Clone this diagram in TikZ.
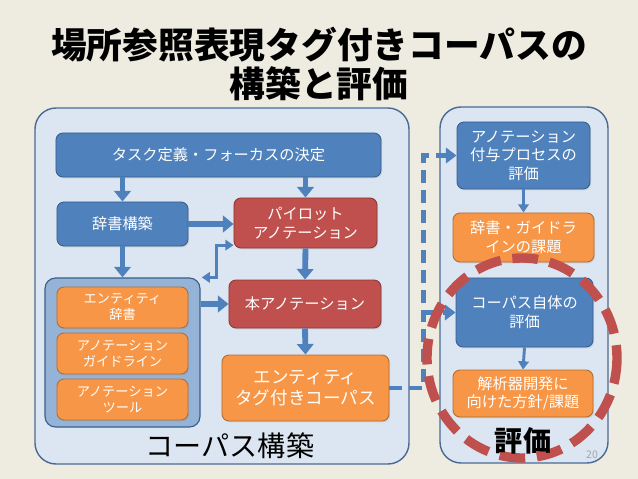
\documentclass[tikz,border=0pt]{standalone}
\usepackage{fontspec}
\setmainfont{Noto Sans CJK JP}
\usetikzlibrary{positioning, arrows.meta, shadows}
\usepackage{xcolor}

\definecolor{bgtan}{HTML}{EEEBE1}
\definecolor{panelfill}{HTML}{DCE6F2}
\definecolor{paneledge}{HTML}{4A6A93}
\definecolor{boxblue}{HTML}{4F81BD}
\definecolor{blueedge}{HTML}{3A5F8C}
\definecolor{boxred}{HTML}{C0504D}
\definecolor{rededge}{HTML}{8C3836}
\definecolor{boxorange}{HTML}{F79646}
\definecolor{orangeedge}{HTML}{B66D31}
\definecolor{groupblue}{HTML}{95B3D7}

\begin{document}
\begin{tikzpicture}[
  x=0.03cm, y=-0.03cm,
  every node/.style={font=\fontsize{13}{16}\selectfont, align=center},
  panel/.style={
    rectangle, draw=paneledge, line width=1.2pt, fill=panelfill,
    rounded corners=18pt, minimum height=10.68cm
  },
  box/.style={
    rectangle, draw, line width=0.8pt, rounded corners=6pt,
    text=white, inner sep=2pt,
    drop shadow={opacity=0.2, shadow xshift=1pt, shadow yshift=-1.2pt}
  },
  bluebox/.style={box, fill=boxblue, draw=blueedge},
  redbox/.style={box, fill=boxred, draw=rededge},
  orangebox/.style={box, fill=boxorange, draw=orangeedge},
  smallbox/.style={orangebox, minimum width=3.93cm, minimum height=1.23cm,
    font=\fontsize{11.3}{13.5}\selectfont},
  caption/.style={font=\fontsize{24}{28}\selectfont, text=black},
  fat/.style={draw=boxblue, line width=5pt, -{Triangle[width=14pt, length=9pt]}},
  slim/.style={draw=boxblue, line width=2.5pt, -{Triangle[width=9pt, length=7pt]}},
  feed/.style={draw=boxblue, line width=4.2pt, dash pattern=on 11pt off 6pt,
    -{Triangle[width=13pt, length=9pt]}},
  ring/.style={draw=boxred, line width=8pt, dash pattern=on 22pt off 10pt}
]
\useasboundingbox[fill=bgtan] (0,0) rectangle (638,479);

% ---- Title ----
\node[text=black, font=\fontsize{30.5}{34}\selectfont\bfseries]
  (title) at (319,64) {場所参照表現タグ付きコーパスの\\構築と評価};

% ---- Panels ----
\node[panel, minimum width=11.22cm] (build) at (222,286) {};
\node[panel, minimum width=5.04cm] (eval) at (524,285) {};

% ---- Corpus building (left) ----
\node[bluebox, minimum width=9.75cm, minimum height=1.32cm]
  (task) at (218.5,155) {タスク定義・フォーカスの決定};
\node[bluebox, minimum width=3.93cm, minimum height=1.32cm]
  (dict) at (122.5,224) {辞書構築};
\node[redbox, minimum width=4.29cm, minimum height=1.5cm]
  (pilot) at (305.5,223) {パイロット\\アノテーション};

\node[rectangle, draw=blueedge, line width=1pt, fill=groupblue,
  rounded corners=9pt, minimum width=4.65cm, minimum height=4.47cm]
  (group) at (122.5,352.5) {};
\node[smallbox] (entdict) at (122.5,307.5) {エンティティ\\辞書};
\node[smallbox] (guide) at (122.5,353.5) {アノテーション\\ガイドライン};
\node[smallbox] (tool) at (122.5,399.5) {アノテーション\\ツール};

\node[redbox, minimum width=4.56cm, minimum height=1.44cm]
  (main) at (305,304) {本アノテーション};
\node[orangebox, minimum width=5.01cm, minimum height=1.98cm,
  font=\fontsize{15}{18}\selectfont]
  (corpus) at (305.5,388) {エンティティ\\タグ付きコーパス};

\node[caption] (buildlabel) at (230,446) {コーパス構築};

% ---- Evaluation (right) ----
\node[bluebox, minimum width=3.99cm, minimum height=2.01cm]
  (proc) at (523.5,155.5) {アノテーション\\付与プロセスの\\評価};
\node[orangebox, minimum width=4.23cm, minimum height=1.47cm]
  (issue) at (523.5,237.5) {辞書・ガイドラ\\インの課題};
\node[bluebox, minimum width=4.11cm, minimum height=2.07cm]
  (self) at (524.5,312.5) {コーパス自体の\\評価};
\node[orangebox, minimum width=4.2cm, minimum height=1.41cm]
  (parser) at (523,393.5) {解析器開発に\\向けた方針/課題};

% ---- Arrows: corpus building ----
\draw[fat] (task.south -| dict) -- (dict.north);
\draw[fat] (task.south -| pilot) -- (pilot.north);
\draw[fat] (dict.east) -- (pilot.west |- dict.east);
\draw[fat] (dict.south) -- (group.north);
\draw[fat] (group.east |- main) -- (main.west);
\draw[fat] (pilot.south) -- (main.north);
\draw[fat] (main.south) -- (corpus.north);
\draw[slim, {Triangle[width=9pt, length=7pt]}-{Triangle[width=9pt, length=7pt]}]
  ([xshift=1pt]group.north east) -- ++(15,0) |- ([yshift=0.1cm]pilot.south west);

% ---- Arrows: evaluation ----
\draw[slim] (proc.south) -- (issue.north);
\draw[slim] (self.south) -- (parser.north);

% ---- Dashed feed from corpus to evaluation ----
\draw[feed] (corpus.east) -- ++(34,0) coordinate (turn) |- (proc.west);
\draw[feed] (turn |- self.west) -- (self.west);

% ---- Highlight ring ----
\draw[ring] (522,358) ellipse [x radius=95, y radius=100];

\node[caption, font=\fontsize{24}{28}\selectfont\bfseries]
  (evallabel) at (523,441) {評価};
\node[text=black!35, font=\fontsize{9}{10}\selectfont] (page) at (592,455) {20};

\end{tikzpicture}
\end{document}
